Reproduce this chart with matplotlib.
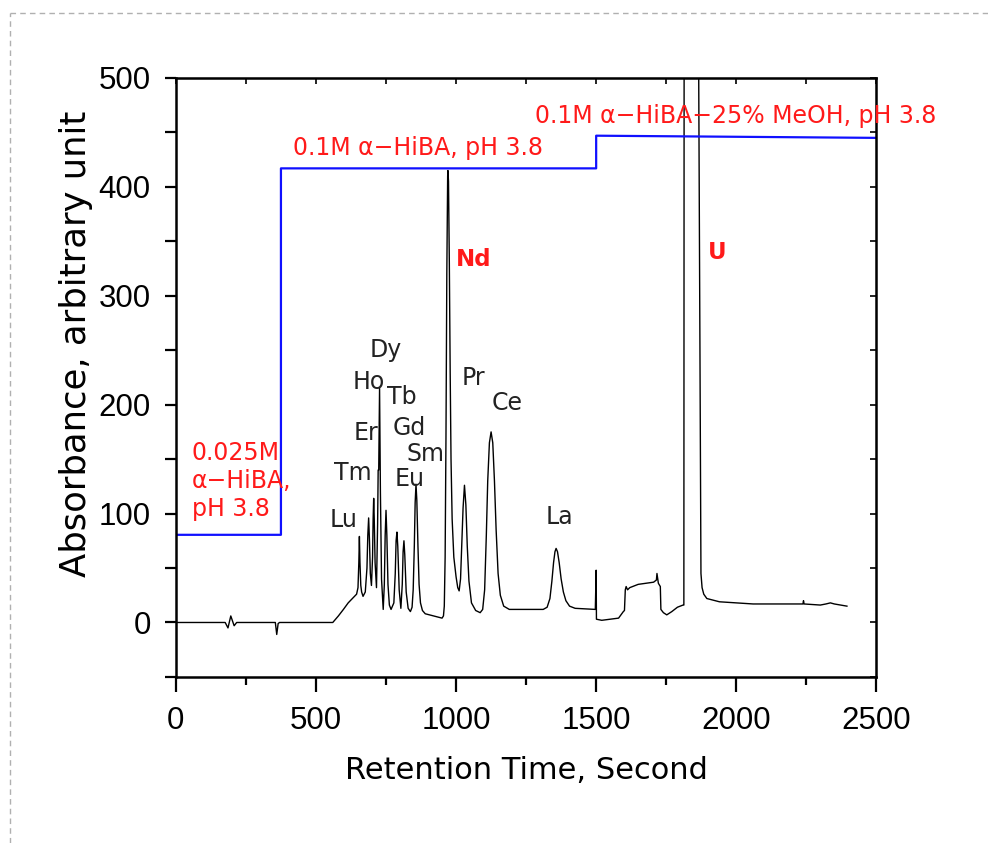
import matplotlib
matplotlib.use('Agg')
import matplotlib.pyplot as plt
from matplotlib.lines import Line2D
from matplotlib.ticker import MultipleLocator

# ---- chromatogram trace (time s, absorbance) ----
time_s = [0, 176, 186, 196, 208, 217, 355, 360, 365, 370, 560, 580, 598, 615, 630, 645,
          650, 653, 655, 657, 660, 663, 668, 676, 682, 685, 688, 691, 694, 698, 702, 704,
          706, 708, 711, 716, 720, 722, 724, 727, 730, 734, 740, 744, 747, 750, 753, 757,
          762, 768, 778, 783, 786, 789, 792, 797, 803, 808, 811, 814, 817, 822, 829, 837,
          843, 847, 851, 854, 857, 860, 864, 868, 873, 880, 890, 920, 950, 955, 958, 961,
          964, 967, 970, 971, 973, 976, 979, 982, 986, 992, 1000, 1006, 1011, 1016, 1021,
          1025, 1030, 1035, 1040, 1046, 1055, 1070, 1086, 1095, 1102, 1108, 1113, 1119,
          1125, 1131, 1137, 1143, 1150, 1158, 1170, 1190, 1250, 1311, 1325, 1335, 1342,
          1348, 1353, 1357, 1362, 1368, 1375, 1383, 1392, 1405, 1425, 1497, 1500, 1501,
          1520, 1580, 1597, 1601, 1604, 1607, 1612, 1620, 1650, 1705, 1715, 1717, 1722,
          1729, 1731, 1740, 1752, 1770, 1790, 1810, 1813, 1814, 1865, 1874, 1878, 1884,
          1895, 1940, 2060, 2238, 2240, 2242, 2300, 2320, 2336, 2350, 2395]
absorb = [0, 0, -5, 6, -3, 0, 0, -11, -1, 0, 0, 6, 12, 18, 22, 26,
          32, 55, 79, 55, 34, 28, 24, 28, 50, 80, 96, 75, 45, 34, 60, 95,
          114, 95, 55, 32, 90, 140, 140, 215, 120, 40, 12, 35, 80, 103, 80, 35,
          16, 12, 18, 45, 75, 83, 70, 30, 13, 35, 65, 75, 62, 28, 13, 10,
          14, 30, 70, 110, 127, 112, 70, 35, 18, 11, 8, 6, 4, 6, 15, 60,
          170, 320, 410, 415, 405, 330, 230, 150, 95, 60, 42, 32, 29, 40, 75,
          105, 126, 108, 70, 38, 18, 11, 9, 12, 30, 80, 130, 165,
          175, 165, 130, 85, 45, 25, 15, 12, 12, 12, 14, 22, 38,
          55, 65, 68, 65, 55, 40, 28, 20, 15, 13, 12, 48, 3,
          2, 4, 10, 11, 30, 33, 30, 32, 35, 37, 39, 45, 36,
          33, 12, 9, 7, 10, 14, 16, 16, 560, 560, 45, 32, 26,
          22, 19, 17, 17, 20, 17, 16, 17, 18, 17, 15]

# ---- eluent step program ----
step_t = [0, 375, 375, 1500, 1500, 2500]
step_y = [80.5, 80.5, 417, 417, 447, 445]

# ---- peak labels (text, time, baseline absorbance) ----
elem_names = ['Lu', 'Tm', 'Er', 'Ho', 'Dy', 'Tb', 'Gd', 'Sm', 'Eu', 'Pr', 'Ce', 'La']
elem_t = [600, 633, 677, 689, 748, 805, 832, 892, 835, 1062, 1183, 1370]
elem_y = [88, 131, 168, 214, 244, 201, 172, 148, 125, 218, 195, 90]

fig = plt.figure(figsize=(9.88, 8.43), dpi=100)
fig.patch.set_facecolor('white')
ax = fig.add_axes([0.178, 0.197, 0.709, 0.7105])

ax.plot(time_s, absorb, color='black', lw=1.0)
ax.plot(step_t, step_y, color='#1010ff', lw=1.6)

ax.set_xlim(0, 2500)
ax.set_ylim(-50, 500)

lab_font = ['DejaVu Sans']
for name, t, y in zip(elem_names, elem_t, elem_y):
    ax.text(t, y, name, ha='center', va='baseline', fontsize=17, color='#222222',
            family=lab_font)

red = '#ff1a1a'
ax.text(1062, 327, 'Nd', ha='center', va='baseline', fontsize=16.5, color=red,
        fontweight='bold', family=lab_font)
ax.text(1933, 334, 'U', ha='center', va='baseline', fontsize=16.5, color=red,
        fontweight='bold', family=lab_font)
ax.text(418, 429, '0.1M \u03b1\u2212HiBA, pH 3.8', ha='left', va='baseline',
        fontsize=17, color=red, family=lab_font)
ax.text(1282, 459, '0.1M \u03b1\u2212HiBA\u221225% MeOH, pH 3.8', ha='left', va='baseline',
        fontsize=17, color=red, family=lab_font, clip_on=False)
ax.text(57, 149.5, '0.025M', ha='left', va='baseline', fontsize=17, color=red, family=lab_font)
ax.text(57, 123.5, '\u03b1\u2212HiBA,', ha='left', va='baseline', fontsize=17, color=red, family=lab_font)
ax.text(57, 97.5, 'pH 3.8', ha='left', va='baseline', fontsize=17, color=red, family=lab_font)

# ---- axes styling ----
tick_font = ['Liberation Sans Narrow', 'Liberation Sans', 'DejaVu Sans']
ax.xaxis.set_major_locator(MultipleLocator(500))
ax.xaxis.set_minor_locator(MultipleLocator(250))
ax.yaxis.set_major_locator(MultipleLocator(100))
ax.yaxis.set_minor_locator(MultipleLocator(50))
ax.tick_params(axis='x', which='major', direction='out', length=11, width=1.6, pad=10)
ax.tick_params(axis='x', which='minor', direction='out', length=6, width=1.6)
ax.tick_params(axis='y', which='both', direction='out', length=8, width=1.6, pad=10)
for lbl in ax.get_xticklabels() + ax.get_yticklabels():
    lbl.set_family(tick_font)
    lbl.set_fontsize(22.5)
for sp in ax.spines.values():
    sp.set_linewidth(1.8)

top = ax.secondary_xaxis('top')
top.xaxis.set_major_locator(MultipleLocator(250))
top.tick_params(direction='in', length=4, width=1.2, labeltop=False)
right = ax.secondary_yaxis('right')
right.yaxis.set_major_locator(MultipleLocator(50))
right.tick_params(direction='in', length=4, width=1.2, labelright=False)

ax.set_xlabel('Retention Time, Second', fontsize=22, family=lab_font, labelpad=14)
ax.set_ylabel('Absorbance, arbitrary unit', fontsize=25.5, family=lab_font)
ax.yaxis.set_label_coords(-0.118, 0.557)

# dashed frame around the figure (top and left edges)
fig.add_artist(Line2D([0.0101, 1.0], [0.9846, 0.9846], transform=fig.transFigure,
                      color='#b0b0b0', lw=1.0, ls=(0, (4, 3))))
fig.add_artist(Line2D([0.0101, 0.0101], [0.0, 0.9846], transform=fig.transFigure,
                      color='#b0b0b0', lw=1.0, ls=(0, (4, 3))))

fig.savefig('out.png', dpi=100, facecolor='white')
